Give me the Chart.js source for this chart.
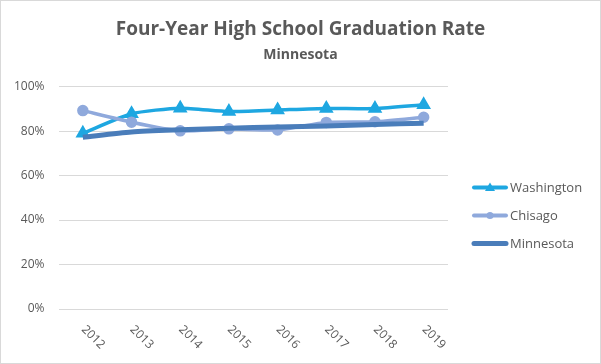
<!DOCTYPE html>
<html><head><meta charset="utf-8">
<script src="https://cdn.jsdelivr.net/npm/chart.js@4/dist/chart.umd.min.js"></script>
<style>html,body{margin:0;padding:0;background:#fff}#wrap{width:601px;height:364px}</style>
</head><body><div id="wrap"><canvas id="c" width="601" height="364"></canvas></div>
<script>
const years = ['2012','2013','2014','2015','2016','2017','2018','2019'];
const washington = [79.0, 87.8, 90.3, 88.8, 89.5, 90.2, 90.1, 91.8];
const chisago = [89.2, 84.0, 80.1, 81.0, 80.5, 83.9, 84.2, 86.2];
const minnesota = [77.2, 79.6, 80.6, 81.3, 81.8, 82.3, 83.0, 83.5];
const yTicks = [0, 20, 40, 60, 80, 100];

const TXT = '#595959';
const FONT = "'Open Sans', 'Liberation Sans', sans-serif";
const COLORS = ['#1EA7E1', '#8FA9DC', '#4A7DBA'];

const customDecor = {
  id: 'customDecor',
  afterDraw(chart) {
    const ctx = chart.ctx, xs = chart.scales.x, area = chart.chartArea;
    ctx.save();
    // rotated x labels (clockwise, as in the reference)
    ctx.fillStyle = TXT;
    ctx.font = '12px ' + FONT;
    ctx.textAlign = 'left';
    ctx.textBaseline = 'middle';
    years.forEach((lab, i) => {
      const px = xs.getPixelForValue(i);
      ctx.save();
      ctx.translate(px + 0.5, area.bottom + 18.5);
      ctx.rotate(Math.PI / 4);
      ctx.fillText(lab, 0, 0);
      ctx.restore();
    });
    // legend
    const lx = area.right + 24, ly0 = area.top + 101, step = 28;
    chart.data.datasets.forEach((d, i) => {
      const y = ly0 + i * step;
      ctx.strokeStyle = d.borderColor;
      ctx.fillStyle = d.borderColor;
      ctx.lineWidth = i === 2 ? 5 : 4;
      ctx.lineCap = 'round';
      ctx.beginPath(); ctx.moveTo(lx + 2, y); ctx.lineTo(lx + 34, y); ctx.stroke();
      if (d.pointStyle === 'triangle') {
        ctx.beginPath(); ctx.moveTo(lx + 18, y - 5); ctx.lineTo(lx + 23, y + 3.5); ctx.lineTo(lx + 13, y + 3.5); ctx.closePath(); ctx.fill();
      } else if (d.pointStyle === 'circle') {
        ctx.beginPath(); ctx.arc(lx + 18, y, 3.5, 0, Math.PI * 2); ctx.fill();
      }
      ctx.fillStyle = TXT;
      ctx.font = '13px ' + FONT;
      ctx.textAlign = 'left';
      ctx.textBaseline = 'middle';
      ctx.fillText(d.label, lx + 38, y + 0.5);
    });
    ctx.restore();
    ctx.strokeStyle = '#d9d9d9';
    ctx.lineWidth = 1;
    ctx.strokeRect(0.5, 0.5, chart.width - 1, chart.height - 1);
  }
};

new Chart(document.getElementById('c'), {
  type: 'line',
  data: {
    labels: years,
    datasets: [
      { label: 'Washington', data: washington, borderColor: COLORS[0], backgroundColor: COLORS[0],
        borderWidth: 3.5, pointStyle: 'triangle', pointRadius: 5, pointHoverRadius: 5, tension: 0.2, order: 3 },
      { label: 'Chisago', data: chisago, borderColor: COLORS[1], backgroundColor: COLORS[1],
        borderWidth: 3.5, pointStyle: 'circle', pointRadius: 4, pointHoverRadius: 4, tension: 0.2, order: 2 },
      { label: 'Minnesota', data: minnesota, borderColor: COLORS[2], backgroundColor: COLORS[2],
        borderWidth: 5, pointStyle: false, pointRadius: 0, tension: 0.25, order: 1 }
    ]
  },
  options: {
    responsive: false,
    animation: false,
    layout: { padding: { left: 0, right: 0, top: 14, bottom: 47 } },
    plugins: {
      title: { display: true, text: 'Four-Year High School Graduation Rate', color: TXT,
        font: { family: FONT, size: 19, weight: 'bold' }, padding: { top: 4, bottom: 6 } },
      subtitle: { display: true, text: 'Minnesota', color: TXT,
        font: { family: FONT, size: 14, weight: 'bold' }, padding: { top: 0, bottom: 23 } },
      legend: { display: false },
      tooltip: { enabled: false }
    },
    scales: {
      x: { offset: true, grid: { display: false }, border: { display: false }, ticks: { display: false } },
      y: { min: 0, max: 100, afterBuildTicks(s) { s.ticks = yTicks.map(v => ({ value: v })); },
        grid: { color: '#d9d9d9', drawTicks: false }, border: { display: false },
        ticks: { color: TXT, font: { family: FONT, size: 12 }, padding: 14, callback: v => v + '%' } },
      legendSpace: { position: 'right', display: true, grid: { display: false }, border: { display: false },
        ticks: { display: false }, afterFit(s) { s.width = 153; } }
    }
  },
  plugins: [customDecor]
});
</script></body></html>
